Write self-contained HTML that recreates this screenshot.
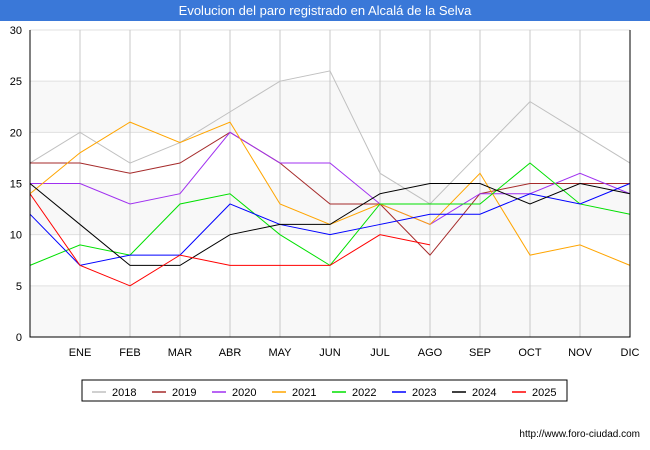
<!DOCTYPE html>
<html><head><meta charset="utf-8"><style>
body{margin:0;width:650px;height:450px;background:#fff;font-family:"Liberation Sans",sans-serif;overflow:hidden}
</style></head><body>
<svg width="650" height="450" style="position:absolute;left:0;top:0">
<rect x="0" y="0" width="650" height="21" fill="#3a78d8"/>
<text x="325" y="15" text-anchor="middle" font-size="13" fill="#fff">Evolucion del paro registrado en Alcalá de la Selva</text>
<g id="bands"></g><g id="grid"></g><g id="series"></g><g id="axes"></g>
<rect x="82" y="380" width="485" height="21" fill="#fff" stroke="#000"/>
<g id="legend"></g>
<text x="640" y="437" text-anchor="end" font-size="10" fill="#000">http://www.foro-ciudad.com</text>
</svg>
<script>
const months=["","ENE","FEB","MAR","ABR","MAY","JUN","JUL","AGO","SEP","OCT","NOV","DIC"];
const yTicks=[0,5,10,15,20,25,30];
const years=["2018","2019","2020","2021","2022","2023","2024","2025"];
const colors=["#c0c0c0","#a52a2a","#a030f0","#ffa500","#00e000","#0000ff","#000000","#ff0000"];
const s2018=[17,20,17,19,22,25,26,16,13,18,23,20,17];
const s2019=[17,17,16,17,20,17,13,13,8,14,15,15,15];
const s2020=[15,15,13,14,20,17,17,13,11,14,14,16,14];
const s2021=[14,18,21,19,21,13,11,13,11,16,8,9,7];
const s2022=[7,9,8,13,14,10,7,13,13,13,17,13,12];
const s2023=[12,7,8,8,13,11,10,11,12,12,14,13,15];
const s2024=[15,11,7,7,10,11,11,14,15,15,13,15,14];
const s2025=[14,7,5,8,7,7,7,10,9];
const series=[s2018,s2019,s2020,s2021,s2022,s2023,s2024,s2025];
const NS="http://www.w3.org/2000/svg";
const X0=30,X1=630,Y0=337,Y1=30;
const x=i=>X0+i*(X1-X0)/(months.length-1);
const y=v=>Y0-(v/30)*(Y0-Y1);
function mk(t,a,p){const e=document.createElementNS(NS,t);for(const k in a)e.setAttribute(k,a[k]);p.appendChild(e);return e;}
const bands=document.getElementById('bands'),grid=document.getElementById('grid'),axes=document.getElementById('axes'),ser=document.getElementById('series'),leg=document.getElementById('legend');
for(let i=0;i<yTicks.length-1;i++){if(i%2==0){const r=mk('rect',{x:X0,y:y(yTicks[i+1]),width:X1-X0,height:y(yTicks[i])-y(yTicks[i+1]),fill:'#f8f8f8'},bands);

}}
yTicks.forEach(v=>{const l=mk('line',{x1:X0,x2:X1,y1:y(v),y2:y(v),stroke:'#e0e0e0'},grid);


const t=mk('text',{x:X0-8,y:y(v)+4,'text-anchor':'end','font-size':11},axes);t.textContent=v;

});
months.forEach((m,i)=>{const l=mk('line',{x1:x(i),x2:x(i),y1:Y1,y2:Y0,stroke:'#c8c8c8'},grid);


const t=mk('text',{x:x(i),y:Y0+19,'text-anchor':'middle','font-size':11},axes);t.textContent=m;

});
const ax=mk('path',{d:`M${X0} ${Y1}V${Y0}H${X1}V${Y1}`,fill:'none',stroke:'#000'},axes);


series.forEach((s,k)=>{const p=mk('polyline',{points:s.map((v,i)=>x(i)+','+y(v)).join(' '),fill:'none',stroke:colors[k],'stroke-width':1},ser);

});
years.forEach((yr,k)=>{const lx=92+k*60;
const l=mk('line',{x1:lx,x2:lx+14,y1:392,y2:392,stroke:colors[k],'stroke-width':1.5},leg);


const t=mk('text',{x:lx+20,y:396,'font-size':11},leg);t.textContent=yr;

});
</script>
</body></html>
